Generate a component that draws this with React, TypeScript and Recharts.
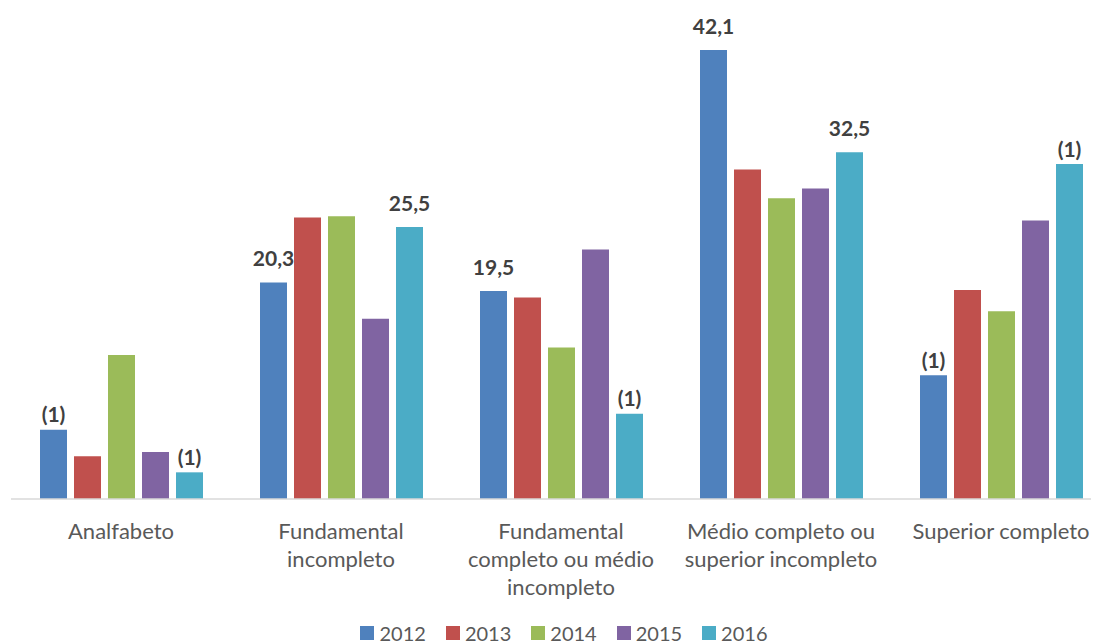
import { BarChart, Bar, XAxis, YAxis, LabelList, Legend } from "recharts";

const categories = [
  "Analfabeto",
  "Fundamental incompleto",
  "Fundamental completo ou médio incompleto",
  "Médio completo ou superior incompleto",
  "Superior completo",
];
const tickLines = [
  ["Analfabeto"],
  ["Fundamental", "incompleto"],
  ["Fundamental", "completo ou médio", "incompleto"],
  ["Médio completo ou", "superior incompleto"],
  ["Superior completo"],
];

const years = ["2012", "2013", "2014", "2015", "2016"];
const colors = ["#4f81bd", "#c0504d", "#9bbb59", "#8064a2", "#4bacc6"];

const v2012 = [6.5, 20.3, 19.5, 42.1, 11.6];
const v2013 = [4.0, 26.4, 18.9, 30.9, 19.6];
const v2014 = [13.5, 26.5, 14.2, 28.2, 17.6];
const v2015 = [4.4, 16.9, 23.4, 29.1, 26.1];
const v2016 = [2.5, 25.5, 8.0, 32.5, 31.4];

const labels2012 = ["(1)", "20,3", "19,5", "42,1", "(1)"];
const labels2016 = ["(1)", "25,5", "(1)", "32,5", "(1)"];

const series = [v2012, v2013, v2014, v2015, v2016];

const data = categories.map((name, i) => {
  const row: Record<string, any> = { name, l2012: labels2012[i], l2016: labels2016[i] };
  years.forEach((y, s) => {
    row[y] = series[s][i];
  });
  return row;
});

const FONT = "Lato, 'Open Sans', sans-serif";

function CategoryTick(props: any) {
  const { x, y, payload } = props;
  const lines = tickLines[payload.index] || [payload.value];
  return (
    <text
      x={x}
      y={y}
      textAnchor="middle"
      fill="#595959"
      fontFamily={FONT}
      fontSize={22}
    >
      {lines.map((line: string, i: number) => (
        <tspan key={i} x={x} y={y + 39.5 + i * 28}>
          {line}
        </tspan>
      ))}
    </text>
  );
}

function BarLabel(props: any) {
  const { x, y, width, value } = props;
  if (value == null || value === "") return null;
  // "(1)" marks sit closer to the bar than the numbers
  const gap = String(value).startsWith("(") ? 7.5 : 16;
  return (
    <text
      x={x + width / 2}
      y={y - gap}
      textAnchor="middle"
      fill="#404040"
      fontFamily={FONT}
      fontWeight="bold"
      fontSize={21}
    >
      {value}
    </text>
  );
}

function LegendContent(props: any) {
  const items = props.payload || [];
  return (
    <div
      style={{
        display: "flex",
        justifyContent: "center",
        height: 22,
        lineHeight: "22px",
        paddingLeft: 6,
        fontFamily: FONT,
        fontSize: 20,
        color: "#595959",
      }}
    >
      {items.map((item: any, i: number) => (
        <div
          key={item.value}
          style={{
            display: "flex",
            alignItems: "center",
            marginRight: i < items.length - 1 ? 20 : 0,
          }}
        >
          <span
            style={{
              display: "inline-block",
              width: 14,
              height: 14,
              background: item.color,
              marginRight: 5,
            }}
          />
          <span>{item.value}</span>
        </div>
      ))}
    </div>
  );
}

export default function App() {
  return (
    <div style={{ width: 1091, height: 636, overflow: "hidden" }}>
      <BarChart
        width={1103}
        height={636}
        data={data}
        margin={{ top: 11, right: 0, bottom: 0, left: 3 }}
        barSize={27}
        barGap={7}
      >
        <XAxis
          dataKey="name"
          interval={0}
          tickLine={false}
          tickSize={0}
          tickMargin={0}
          height={123}
          axisLine={{ stroke: "#d9d9d9", strokeWidth: 1.5 }}
          tick={<CategoryTick />}
        />
        <YAxis hide domain={[0, 45]} />
        <Legend verticalAlign="bottom" content={<LegendContent />} />
        {years.map((y, s) => (
          <Bar key={y} dataKey={y} fill={colors[s]} isAnimationActive={false}>
            {y === "2012" && <LabelList dataKey="l2012" content={<BarLabel />} />}
            {y === "2016" && <LabelList dataKey="l2016" content={<BarLabel />} />}
          </Bar>
        ))}
      </BarChart>
    </div>
  );
}
